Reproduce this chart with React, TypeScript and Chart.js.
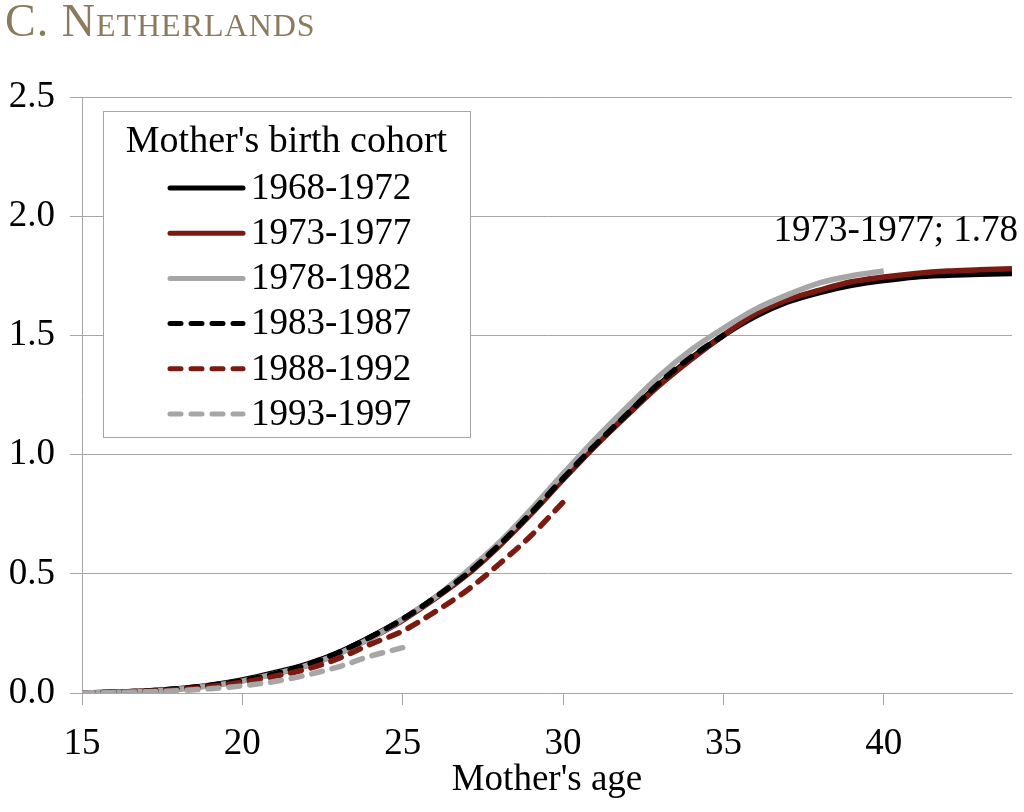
import { useEffect, useRef } from "react";
import { Chart, registerables } from "chart.js";

Chart.register(...registerables);

const SERIF = "'Liberation Serif', 'DejaVu Serif', serif";
const BLACK = "#000000";
const RED = "#7b1a10";
const GREY = "#a6a6a6";
const GRID = "#a6a6a6";

const AGES = [15, 16, 17, 18, 19, 20, 21, 22, 23, 24, 25, 26, 27, 28, 29, 30, 31, 32, 33, 34, 35, 36, 37, 38, 39, 40, 41, 42, 43, 44];
const COHORTS = ["1968-1972", "1973-1977", "1978-1982", "1983-1987", "1988-1992", "1993-1997"];

// cumulative births per woman by mother's age, one array per cohort (starting at age 15)
const C1968 = [0, 0.003, 0.008, 0.018, 0.033, 0.055, 0.085, 0.12, 0.17, 0.235, 0.31, 0.4, 0.5, 0.62, 0.755, 0.905, 1.045, 1.175, 1.295, 1.405, 1.5, 1.58, 1.64, 1.68, 1.71, 1.73, 1.745, 1.752, 1.757, 1.76];
const C1973 = [0, 0.003, 0.008, 0.017, 0.031, 0.052, 0.08, 0.115, 0.165, 0.23, 0.305, 0.395, 0.495, 0.615, 0.75, 0.895, 1.035, 1.165, 1.29, 1.4, 1.5, 1.59, 1.65, 1.69, 1.725, 1.745, 1.76, 1.77, 1.775, 1.78];
const C1978 = [0, 0.002, 0.007, 0.016, 0.03, 0.05, 0.08, 0.115, 0.165, 0.23, 0.31, 0.4, 0.51, 0.63, 0.77, 0.92, 1.065, 1.2, 1.33, 1.44, 1.53, 1.61, 1.67, 1.72, 1.75, 1.77];
const C1983 = [0, 0.003, 0.008, 0.018, 0.032, 0.052, 0.08, 0.118, 0.17, 0.235, 0.31, 0.4, 0.5, 0.62, 0.755, 0.9, 1.04, 1.17, 1.3, 1.41, 1.5];
const C1988 = [0, 0.002, 0.006, 0.014, 0.027, 0.045, 0.07, 0.1, 0.145, 0.205, 0.26, 0.34, 0.43, 0.54, 0.66, 0.8];
const C1993 = [0, 0.002, 0.005, 0.01, 0.018, 0.03, 0.048, 0.075, 0.11, 0.155, 0.19];

const SERIES = [C1968, C1973, C1978, C1983, C1988, C1993];
const COLORS = [BLACK, RED, GREY, BLACK, RED, GREY];
const DASHED = [false, false, false, true, true, true];

const X_TICKS = [15, 20, 25, 30, 35, 40];
const Y_TICKS = [0, 0.5, 1, 1.5, 2, 2.5];

const LEGEND_TITLE = "Mother's birth cohort";
const X_TITLE = "Mother's age";
const CALLOUT = `${COHORTS[1]}; ${C1973[C1973.length - 1].toFixed(2)}`;

const DASH = [11, 10];

const legendBox = {
  id: "legendBox",
  afterDraw(chart: any) {
    const { ctx, chartArea } = chart;
    const x0 = chartArea.left + 21;
    const y0 = chartArea.top + 14;
    const w = 367;
    const h = 326;
    ctx.save();
    ctx.fillStyle = "#ffffff";
    ctx.fillRect(x0, y0, w, h);
    ctx.strokeStyle = GRID;
    ctx.lineWidth = 1;
    ctx.strokeRect(x0 + 0.5, y0 + 0.5, w, h);

    ctx.fillStyle = "#000000";
    ctx.font = `38px ${SERIF}`;
    ctx.textBaseline = "middle";
    ctx.textAlign = "center";
    ctx.fillText(LEGEND_TITLE, x0 + w / 2, y0 + 31);

    ctx.font = `37px ${SERIF}`;
    ctx.textAlign = "left";
    chart.data.datasets.forEach((ds: any, i: number) => {
      const cy = y0 + 77 + i * 45.2;
      ctx.beginPath();
      ctx.strokeStyle = ds.borderColor;
      ctx.lineWidth = 5;
      ctx.lineCap = "round";
      ctx.setLineDash(ds.borderDash || []);
      ctx.moveTo(x0 + 67, cy);
      ctx.lineTo(x0 + 140, cy);
      ctx.stroke();
      ctx.setLineDash([]);
      ctx.fillText(ds.label, x0 + 148, cy + 1);
    });
    ctx.restore();
  },
};

const callout = {
  id: "callout",
  afterDraw(chart: any) {
    const { ctx, scales } = chart;
    const lastAge = AGES[C1973.length - 1];
    const px = scales.x.getPixelForValue(lastAge);
    const py = scales.y.getPixelForValue(C1973[C1973.length - 1]);
    ctx.save();
    ctx.fillStyle = "#000000";
    ctx.font = `37px ${SERIF}`;
    ctx.textAlign = "right";
    ctx.textBaseline = "middle";
    ctx.fillText(CALLOUT, px + 6, py - 37);
    ctx.restore();
  },
};

export default function App() {
  const canvasRef = useRef<HTMLCanvasElement>(null);
  const chartRef = useRef<Chart | null>(null);

  useEffect(() => {
    const el = canvasRef.current;
    if (!el) return;
    chartRef.current?.destroy();

    chartRef.current = new Chart(el, {
      type: "line",
      data: {
        datasets: SERIES.map((vals, i) => ({
          label: COHORTS[i],
          data: vals.map((v, j) => ({ x: AGES[j], y: v })),
          borderColor: COLORS[i],
          backgroundColor: COLORS[i],
          borderWidth: 5.5,
          borderDash: DASHED[i] ? DASH : [],
          borderCapStyle: DASHED[i] ? "round" : "butt",
          borderJoinStyle: "round",
          pointRadius: 0,
          cubicInterpolationMode: "monotone",
          fill: false,
          order: 10 - i,
        })),
      },
      options: {
        animation: false,
        responsive: false,
        layout: { padding: { left: 0, right: 12, top: 97, bottom: 0 } },
        plugins: {
          legend: { display: false },
          tooltip: { enabled: false },
          title: { display: false },
        },
        scales: {
          x: {
            type: "linear",
            min: 15,
            max: 44,
            afterBuildTicks: (axis: any) => {
              axis.ticks = X_TICKS.map((v) => ({ value: v }));
            },
            afterFit: (axis: any) => {
              axis.height = 119;
            },
            grid: { drawOnChartArea: false, drawTicks: true, tickLength: 12, color: GRID, lineWidth: 1 },
            border: { display: true, color: GRID, width: 1 },
            ticks: { color: "#000", font: { family: SERIF, size: 37 }, padding: 17, maxRotation: 0 },
            title: { display: true, text: X_TITLE, color: "#000", font: { family: SERIF, size: 37 }, padding: { top: 0, bottom: 10 } },
          },
          y: {
            type: "linear",
            min: 0,
            max: 2.5,
            afterBuildTicks: (axis: any) => {
              axis.ticks = Y_TICKS.map((v) => ({ value: v }));
            },
            afterFit: (axis: any) => {
              axis.width = 82;
            },
            grid: { color: GRID, lineWidth: 1, tickLength: 12 },
            border: { display: true, color: GRID, width: 1 },
            ticks: { color: "#000", font: { family: SERIF, size: 37 }, padding: 15, callback: (v: any) => Number(v).toFixed(1) },
          },
        },
      },
      plugins: [legendBox, callout],
    } as any);

    return () => chartRef.current?.destroy();
  }, []);

  return (
    <div style={{ position: "absolute", left: 0, top: 0, width: 1024, height: 812, background: "#fff" }}>
      <div
        style={{
          position: "absolute",
          left: 5,
          top: -2,
          fontFamily: SERIF,
          fontSize: 46,
          lineHeight: "46px",
          fontVariant: "small-caps",
          letterSpacing: 1,
          color: "#8b7b5c",
          whiteSpace: "nowrap",
        }}
      >
        C. Netherlands
      </div>
      <canvas ref={canvasRef} width={1024} height={812} style={{ display: "block" }} />
    </div>
  );
}
